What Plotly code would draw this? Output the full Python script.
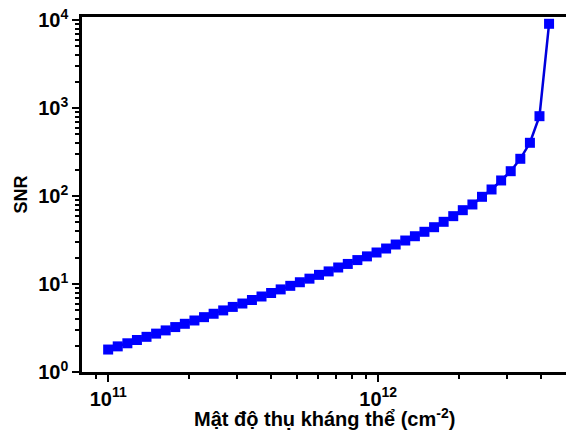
import plotly.graph_objects as go

# Antibody surface density (cm^-2)
density = [1.000e11, 1.085e11, 1.178e11, 1.278e11, 1.387e11, 1.505e11, 1.633e11, 1.772e11,
           1.923e11, 2.087e11, 2.265e11, 2.458e11, 2.667e11, 2.894e11, 3.141e11, 3.408e11,
           3.698e11, 4.013e11, 4.355e11, 4.726e11, 5.129e11, 5.566e11, 6.039e11, 6.554e11,
           7.112e11, 7.718e11, 8.375e11, 9.088e11, 9.863e11, 1.070e12, 1.161e12, 1.260e12,
           1.368e12, 1.484e12, 1.611e12, 1.748e12, 1.897e12, 2.058e12, 2.234e12, 2.424e12,
           2.630e12, 2.854e12, 3.097e12, 3.361e12, 3.648e12, 3.958e12, 4.295e12]

snr = [1.80, 1.955, 2.12, 2.31, 2.51, 2.73, 2.97, 3.24, 3.53, 3.85, 4.20, 4.59, 5.01, 5.49,
       6.00, 6.58, 7.21, 7.90, 8.68, 9.53, 10.47, 11.5, 12.7, 13.9, 15.4, 16.9, 18.7, 20.6,
       22.8, 25.3, 28.1, 31.2, 34.9, 39.2, 44.2, 50.9, 59.0, 69.0, 80.1, 97.9, 118.6, 150.1,
       191.3, 264.7, 402.3, 806.9, 9055.0]

y_major = [1, 10, 100, 1000, 10000]
y_major_text = ["10<sup>0</sup>", "10<sup>1</sup>", "10<sup>2</sup>", "10<sup>3</sup>", "10<sup>4</sup>"]
x_major = [1e11, 1e12]
x_major_text = ["10<sup>11</sup>", "10<sup>12</sup>"]

y_minor = [m * 10 ** d for d in range(0, 4) for m in range(2, 10)]
x_minor = [9e10] + [m * 1e11 for m in range(2, 10)] + [m * 1e12 for m in range(2, 5)]

x_title = "Mật độ thụ kháng thể (cm<sup>-2</sup>)"
y_title = "SNR"

fig = go.Figure()
fig.add_trace(go.Scatter(
    x=density, y=snr, mode="lines+markers",
    line=dict(color="#0000DD", width=2.5),
    marker=dict(symbol="square", size=10, color="#0000FF", line=dict(width=0)),
    showlegend=False,
))

font_family = "Liberation Sans, Arial, sans-serif"

fig.update_layout(
    width=566, height=430,
    margin=dict(l=82, r=0, t=17, b=58, autoexpand=False),
    plot_bgcolor="white", paper_bgcolor="white",
    font=dict(family=font_family, color="black"),
)

fig.update_xaxes(
    type="log", range=[10.9031, 12.6957], automargin=False,
    showgrid=False, zeroline=False,
    showline=True, linecolor="black", linewidth=2.5, mirror=True,
    ticks="outside", ticklen=7, tickwidth=2, tickcolor="black",
    tickmode="array", tickvals=x_major, ticktext=x_major_text,
    tickfont=dict(family=font_family, size=20, color="black", weight="bold"),
    minor=dict(ticks="outside", ticklen=4, tickwidth=2, tickcolor="black",
               tickmode="array", tickvals=x_minor, showgrid=False),
)

fig.update_yaxes(
    type="log", range=[0, 4.034], automargin=False,
    showgrid=False, zeroline=False,
    showline=True, linecolor="black", linewidth=2.5, mirror=False,
    ticks="outside", ticklen=7, tickwidth=2, tickcolor="black",
    tickmode="array", tickvals=y_major, ticktext=y_major_text,
    tickfont=dict(family=font_family, size=20, color="black", weight="bold"),
    minor=dict(ticks="outside", ticklen=4, tickwidth=2, tickcolor="black",
               tickmode="array", tickvals=y_minor, showgrid=False),
)

fig.add_annotation(
    text=x_title, xref="paper", yref="paper", x=0.5, y=0, yshift=-45,
    xanchor="center", yanchor="middle", showarrow=False,
    font=dict(family=font_family, size=20, color="black", weight="bold"),
)
fig.add_annotation(
    text=y_title, xref="paper", yref="paper", x=0, xshift=-62, y=0.5,
    xanchor="center", yanchor="middle", textangle=-90, showarrow=False,
    font=dict(family=font_family, size=18, color="black", weight="bold"),
)

fig.write_html("out.html", config={"displayModeBar": False},
               post_script="document.body.style.margin='0px';")
